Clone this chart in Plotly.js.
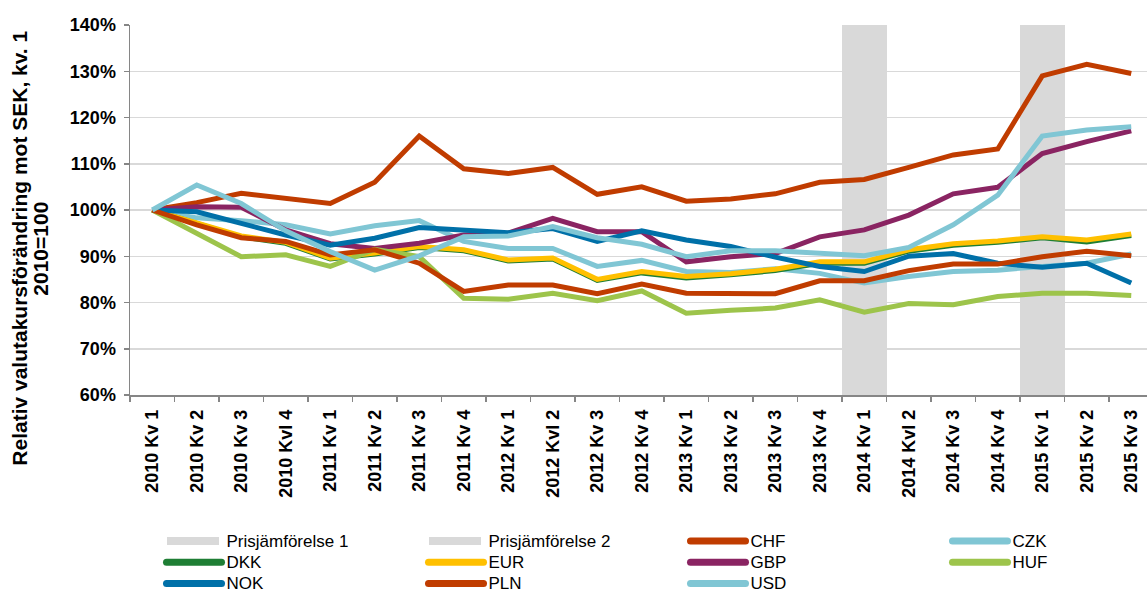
<!DOCTYPE html>
<html>
<head>
<meta charset="utf-8">
<script src="https://cdn.plot.ly/plotly-3.0.1.min.js"></script>
<style>
html,body{margin:0;padding:0;background:#fff;overflow:hidden;}
#chart{width:1175px;height:593px;}
#chart .legend .scrollbox{clip-path:none !important;}
#chart .legend .legendtext{font-size:17px !important;}
#chart .legend .legendlines path{stroke-width:7px !important;stroke-linecap:round;}
#chart .legend .legendpoints path{d:path("M-27,4H25V-4H-27Z");}
</style>
</head>
<body>
<div id="chart"></div>
<script>
const categories = ['2010 Kv 1','2010 Kv 2','2010 Kv 3','2010 Kvl 4','2011 Kv 1','2011 Kv 2','2011 Kv 3','2011 Kv 4','2012 Kv 1','2012 Kvl 2','2012 Kv 3','2012 Kv 4','2013 Kv 1','2013 Kv 2','2013 Kv 3','2013 Kv 4','2014 Kv 1','2014 Kvl 2','2014 Kv 3','2014 Kv 4','2015 Kv 1','2015 Kv 2','2015 Kv 3'];

const shade1Category = ['2014 Kv 1'];
const shade2Category = ['2015 Kv 1'];
const shadeValue = [140];

const CHF = [100, 101.6, 103.6, 102.5, 101.4, 106.0, 116.0, 108.9, 107.9, 109.2, 103.4, 105.0, 101.9, 102.4, 103.5, 106.0, 106.6, 109.2, 111.9, 113.2, 129.0, 131.5, 129.5];
const CZK = [100, 98.3, 97.7, 96.8, 94.8, 96.6, 97.7, 93.2, 91.7, 91.7, 87.8, 89.1, 86.7, 86.5, 87.3, 86.3, 84.2, 85.6, 86.7, 87.0, 87.8, 88.5, 90.5];
const DKK = [100, 97.1, 94.2, 92.8, 89.4, 90.5, 91.9, 91.2, 89.0, 89.4, 84.8, 86.4, 85.3, 86.0, 86.9, 88.5, 88.5, 91.1, 92.4, 93.0, 94.0, 93.1, 94.5];
const EUR = [100, 97.3, 94.4, 93.0, 89.6, 90.7, 92.1, 91.4, 89.2, 89.6, 85.0, 86.7, 85.6, 86.2, 87.2, 88.8, 88.8, 91.4, 92.7, 93.3, 94.2, 93.5, 94.8];
const GBP = [100, 100.7, 100.6, 95.7, 92.7, 91.7, 92.8, 94.6, 95.0, 98.2, 95.3, 95.3, 88.8, 89.9, 90.6, 94.2, 95.7, 98.9, 103.5, 104.9, 112.2, 114.8, 117.1];
const HUF = [100, 95.0, 89.9, 90.3, 87.8, 91.5, 89.9, 80.9, 80.7, 82.0, 80.4, 82.5, 77.7, 78.3, 78.8, 80.6, 77.9, 79.8, 79.5, 81.3, 82.0, 82.0, 81.5];
const NOK = [100, 99.6, 97.1, 94.6, 92.4, 93.9, 96.2, 95.7, 95.1, 96.0, 93.2, 95.5, 93.5, 92.1, 89.8, 87.8, 86.7, 90.0, 90.6, 88.5, 87.6, 88.5, 84.2];
const PLN = [100, 96.8, 94.0, 93.2, 90.3, 91.4, 88.5, 82.4, 83.8, 83.8, 81.9, 84.0, 82.0, 81.9, 81.9, 84.7, 84.7, 86.9, 88.3, 88.3, 89.9, 91.1, 90.1];
const USD = [100, 105.4, 101.4, 95.5, 91.0, 87.0, 90.1, 94.2, 94.4, 96.4, 94.0, 92.6, 89.9, 91.2, 91.2, 90.6, 90.1, 91.9, 96.8, 103.2, 116.0, 117.3, 118.0];

const series = [
  ['CHF', CHF, '#C03C00'],
  ['CZK', CZK, '#80C6D4'],
  ['DKK', DKK, '#1E7E34'],
  ['EUR', EUR, '#FFC000'],
  ['GBP', GBP, '#8A2462'],
  ['HUF', HUF, '#9DC44B'],
  ['NOK', NOK, '#0070A8'],
  ['PLN', PLN, '#C03C00'],
  ['USD', USD, '#80C6D4']
];

const traces = [
  {type:'bar', name:'Prisjämförelse 1', x:shade1Category, y:shadeValue, width:1, marker:{color:'#D9D9D9', line:{width:0}}, hoverinfo:'skip'},
  {type:'bar', name:'Prisjämförelse 2', x:shade2Category, y:shadeValue, width:1, marker:{color:'#D9D9D9', line:{width:0}}, hoverinfo:'skip'}
];
series.forEach(s => traces.push({
  type:'scatter', mode:'lines', name:s[0], x:categories, y:s[1],
  line:{color:s[2], width:5}
}));

const titleLine1 = 'Relativ valutakursförändring mot SEK, kv. 1';
const titleLine2 = '2010=100';

// The figure is drawn slightly wider than the 1147 px window; the right edge
// of the plot area runs past the window border, as in the reference.
const W = 1175, H = 593, L = 130;
const plotW = W - L;

const layout = {
  width:W, height:H,
  margin:{l:L, r:0, t:25, b:198},
  paper_bgcolor:'#ffffff', plot_bgcolor:'#ffffff',
  font:{family:'Liberation Sans, Arial, sans-serif', color:'#000000'},
  barmode:'overlay',
  bargap:0,
  showlegend:true,
  xaxis:{
    type:'category', categoryorder:'array', categoryarray:categories,
    range:[-0.5, -0.5 + plotW/44.5], tickangle:-90, tickson:'boundaries',
    ticks:'outside', ticklen:5, tickcolor:'#868686', tickwidth:1.5,
    ticklabelstandoff:6,
    showline:true, linecolor:'#868686', linewidth:1.5,
    showgrid:false, zeroline:false,
    tickfont:{size:18, weight:700, color:'#000'}
  },
  yaxis:{
    range:[60,140], dtick:10, ticksuffix:'%',
    ticks:'outside', ticklen:5, tickcolor:'#868686', tickwidth:1.5,
    ticklabelstandoff:4,
    showline:true, linecolor:'#868686', linewidth:1.5,
    showgrid:true, gridcolor:'#D9D9D9', gridwidth:1.5, zeroline:false,
    tickfont:{size:18, weight:700, color:'#000'}
  },
  legend:{
    orientation:'h', xref:'container', yref:'container',
    x:161.5/W, y:1-525.5/H, xanchor:'left', yanchor:'top',
    entrywidth:192, entrywidthmode:'pixels', itemwidth:55,
    font:{size:14, color:'#000'}, traceorder:'normal',
    bgcolor:'rgba(0,0,0,0)'
  },
  annotations:[
    {text:titleLine1, xref:'paper', yref:'paper', x:(20-L)/plotW, y:(395.5-249)/370.5, textangle:-90,
     showarrow:false, xanchor:'center', yanchor:'middle', font:{size:21, weight:700, color:'#000'}},
    {text:titleLine2, xref:'paper', yref:'paper', x:(41-L)/plotW, y:(395.5-249)/370.5, textangle:-90,
     showarrow:false, xanchor:'center', yanchor:'middle', font:{size:21, weight:700, color:'#000'}}
  ]
};

Plotly.newPlot('chart', traces, layout, {displayModeBar:false, staticPlot:true});
</script>
</body>
</html>
